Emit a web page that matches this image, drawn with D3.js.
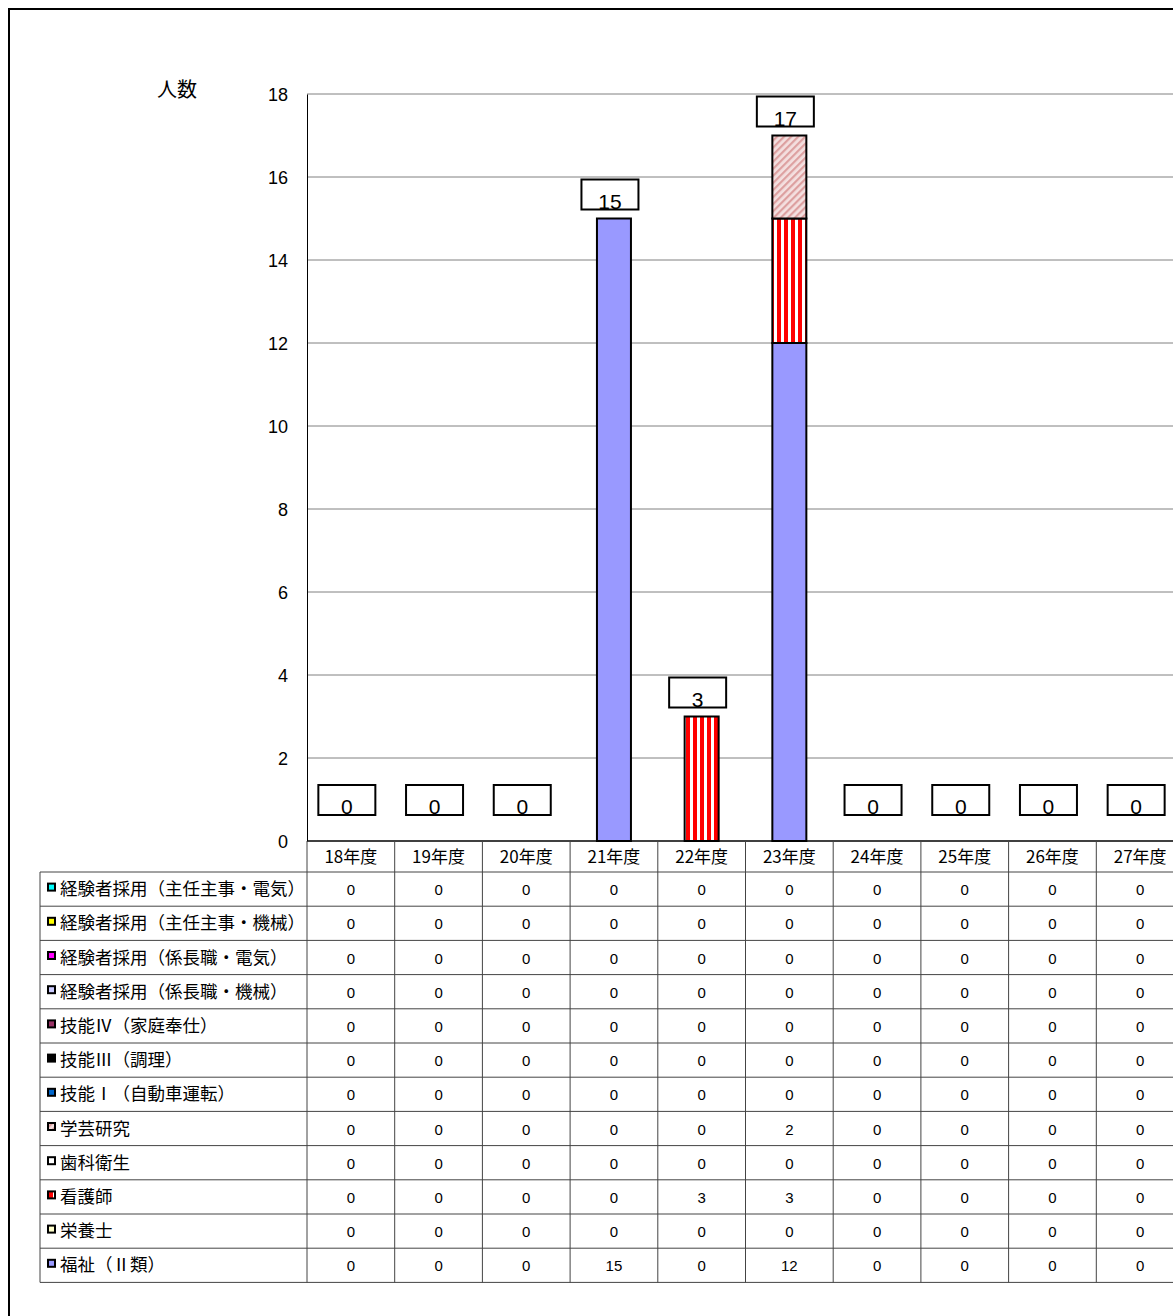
<!DOCTYPE html>
<html>
<head>
<meta charset="utf-8">
<script src="https://cdn.jsdelivr.net/npm/d3@7"></script>
<style>
  body { margin: 0; background: #fff; }
  text { font-family: "Noto Sans CJK JP", "Liberation Sans", sans-serif; fill: #000; }
</style>
</head>
<body>
<div id="chart"></div>
<script>
// categories (fiscal years)
var years = ["18年度", "19年度", "20年度", "21年度", "22年度", "23年度", "24年度", "25年度", "26年度", "27年度"];

// series names, in table order (top to bottom)
var seriesNames = [
  "経験者採用（主任主事・電気）",
  "経験者採用（主任主事・機械）",
  "経験者採用（係長職・電気）",
  "経験者採用（係長職・機械）",
  "技能Ⅳ（家庭奉仕）",
  "技能Ⅲ（調理）",
  "技能Ⅰ（自動車運転）",
  "学芸研究",
  "歯科衛生",
  "看護師",
  "栄養士",
  "福祉（Ⅱ類）"
];

// values per series, same order as seriesNames
var seriesValues = [
  [0, 0, 0, 0, 0, 0, 0, 0, 0, 0],
  [0, 0, 0, 0, 0, 0, 0, 0, 0, 0],
  [0, 0, 0, 0, 0, 0, 0, 0, 0, 0],
  [0, 0, 0, 0, 0, 0, 0, 0, 0, 0],
  [0, 0, 0, 0, 0, 0, 0, 0, 0, 0],
  [0, 0, 0, 0, 0, 0, 0, 0, 0, 0],
  [0, 0, 0, 0, 0, 0, 0, 0, 0, 0],
  [0, 0, 0, 0, 0, 2, 0, 0, 0, 0],
  [0, 0, 0, 0, 0, 0, 0, 0, 0, 0],
  [0, 0, 0, 0, 3, 3, 0, 0, 0, 0],
  [0, 0, 0, 0, 0, 0, 0, 0, 0, 0],
  [0, 0, 0, 15, 0, 12, 0, 0, 0, 0]
];

// fills per series
var seriesFills = [
  "#00FFFF", "#FFFF00", "#FF00FF", "#CCCCFF", "#993366", "#000000",
  "#0066CC", "url(#diag)", "#FFFFFF", "url(#vstripe)", "#FFFFCC", "#9999FF"
];

var yTicks = [0, 2, 4, 6, 8, 10, 12, 14, 16, 18];

var W = 1173, H = 1316;
var plotLeft = 307, plotTop = 94, plotBottom = 841;
var bandW = 87.7;
var headerH = 31, rowH = 34.2, tableLeft = 40;

var svg = d3.select("#chart").append("svg")
  .attr("width", W).attr("height", H);

var defs = svg.append("defs");
var vs = defs.append("pattern").attr("id", "vstripe")
  .attr("patternUnits", "userSpaceOnUse").attr("width", 7).attr("height", 10);
vs.append("rect").attr("width", 7).attr("height", 10).attr("fill", "#fff");
vs.append("rect").attr("width", 4).attr("height", 10).attr("fill", "#FF0000");

var dg = defs.append("pattern").attr("id", "diag")
  .attr("patternUnits", "userSpaceOnUse").attr("width", 5).attr("height", 5)
  .attr("patternTransform", "rotate(45)");
dg.append("rect").attr("width", 5).attr("height", 5).attr("fill", "#F4E0E0");
dg.append("rect").attr("width", 2.2).attr("height", 5).attr("fill", "#DDA0A0");

// outer frame (left and top edges visible)
svg.append("path")
  .attr("d", "M9," + H + " V9 H" + W)
  .attr("fill", "none").attr("stroke", "#000").attr("stroke-width", 2);

var x = d3.scaleBand().domain(years)
  .range([plotLeft, plotLeft + bandW * years.length]).padding(0);
var y = d3.scaleLinear().domain([0, 18]).range([plotBottom, plotTop]);

// gridlines
svg.append("g").selectAll("line")
  .data(yTicks.filter(function(d){ return d > 0; }))
  .enter().append("line")
  .attr("x1", plotLeft).attr("x2", plotLeft + bandW * years.length)
  .attr("y1", function(d){ return y(d); }).attr("y2", function(d){ return y(d); })
  .attr("stroke", "#808080").attr("stroke-width", 1);

// y axis
var yAxis = d3.axisLeft(y).tickValues(yTicks).tickSize(0).tickPadding(19);
var yg = svg.append("g").attr("transform", "translate(" + plotLeft + ",0)").call(yAxis);
yg.select(".domain").attr("stroke", "#000");
yg.selectAll("text").style("font-size", "18px")
  .style("font-family", "'Liberation Sans', sans-serif").attr("dy", "0.35em");

svg.append("text").attr("x", 177).attr("y", 97)
  .attr("text-anchor", "middle").style("font-size", "20px").text("人数");

// stacked bars: bottom = last series in table
var stackOrder = d3.range(seriesNames.length).reverse();
var barW = 34;
years.forEach(function(yr, i) {
  var base = 0;
  stackOrder.forEach(function(s) {
    var v = seriesValues[s][i];
    if (v > 0) {
      svg.append("rect")
        .attr("x", x(yr) + (bandW - barW) / 2)
        .attr("y", y(base + v))
        .attr("width", barW)
        .attr("height", y(base) - y(base + v))
        .attr("fill", seriesFills[s])
        .attr("stroke", "#000").attr("stroke-width", 2);
    }
    base += v;
  });
});

// total labels in boxes
var totals = years.map(function(yr, i) {
  return d3.sum(seriesValues, function(s){ return s[i]; });
});
var boxW = 57, boxH = 30;
var lab = svg.append("g").selectAll("g").data(years).enter().append("g")
  .attr("transform", function(d, i) {
    var bottom = Math.min(y(totals[i]) - 9, y(0) - 26);
    return "translate(" + (x(d) + bandW / 2 - 4) + "," + bottom + ")";
  });
lab.append("rect").attr("x", -boxW / 2).attr("y", -boxH)
  .attr("width", boxW).attr("height", boxH)
  .attr("fill", "#fff").attr("stroke", "#000").attr("stroke-width", 2);
lab.append("text").attr("text-anchor", "middle").attr("y", -1)
  .style("font-size", "21px").style("font-family", "'Liberation Sans', sans-serif")
  .text(function(d, i){ return totals[i]; });

// data table
var tableRight = plotLeft + bandW * years.length;
var tableBottom = plotBottom + headerH + rowH * seriesNames.length;
var tbl = svg.append("g");
var lineColor = "#444";

// horizontal lines
d3.range(seriesNames.length + 1).forEach(function(r) {
  var yy = plotBottom + headerH + rowH * r;
  tbl.append("line").attr("x1", tableLeft).attr("x2", tableRight)
    .attr("y1", yy).attr("y2", yy).attr("stroke", lineColor).attr("stroke-width", 1);
});
tbl.append("line").attr("x1", plotLeft).attr("x2", tableRight)
  .attr("y1", plotBottom).attr("y2", plotBottom).attr("stroke", "#000").attr("stroke-width", 1.5);
// vertical lines
tbl.append("line").attr("x1", tableLeft).attr("x2", tableLeft)
  .attr("y1", plotBottom + headerH).attr("y2", tableBottom).attr("stroke", lineColor);
years.forEach(function(yr) {
  tbl.append("line").attr("x1", x(yr)).attr("x2", x(yr))
    .attr("y1", plotBottom).attr("y2", tableBottom).attr("stroke", lineColor);
});

// header
tbl.selectAll(".hdr").data(years).enter().append("text")
  .attr("x", function(d){ return x(d) + bandW / 2; })
  .attr("y", plotBottom + headerH / 2 + 6)
  .attr("text-anchor", "middle").style("font-size", "17px")
  .text(function(d){ return d; });

// rows
seriesNames.forEach(function(name, r) {
  var cy = plotBottom + headerH + rowH * r + rowH / 2;
  tbl.append("rect").attr("x", tableLeft + 8).attr("y", cy - 5.5)
    .attr("width", 7).attr("height", 7)
    .attr("fill", seriesFills[r]).attr("stroke", "#000").attr("stroke-width", 2);
  tbl.append("text").attr("x", tableLeft + 20).attr("y", cy + 6)
    .style("font-size", "17.5px").text(name);
  years.forEach(function(yr, i) {
    tbl.append("text").attr("x", x(yr) + bandW / 2).attr("y", cy + 6)
      .attr("text-anchor", "middle").style("font-size", "15px")
      .style("font-family", "'Liberation Sans', sans-serif")
      .text(seriesValues[r][i]);
  });
});
</script>
</body>
</html>
